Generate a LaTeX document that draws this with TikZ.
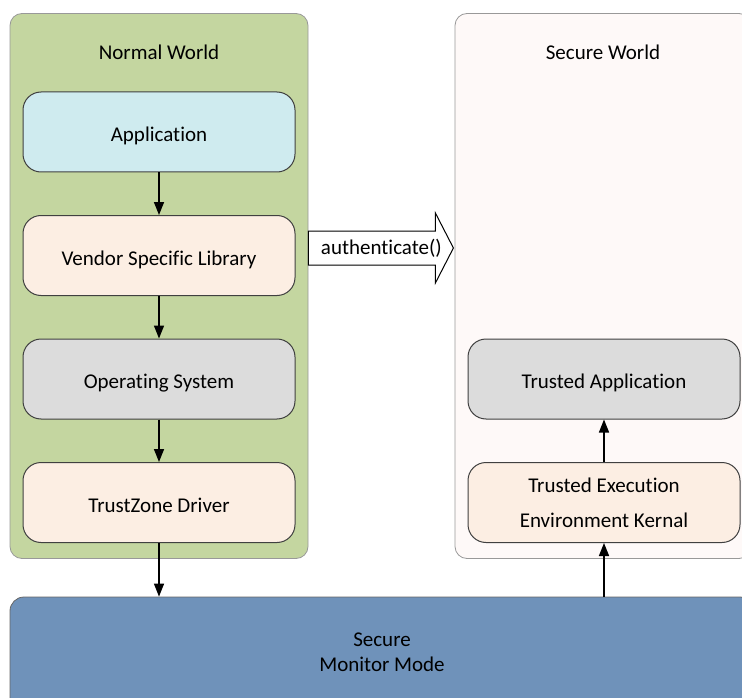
\documentclass[tikz,border=0pt]{standalone}
\usepackage{fontspec}
\setmainfont{Carlito}[Ligatures=NoCommon]
\usetikzlibrary{positioning,arrows.meta}

\begin{document}
\begin{tikzpicture}[x=1pt, y=-1pt, >={Triangle[length=13pt,width=10pt]},
  font=\fontsize{21}{25}\selectfont, node distance=42.5pt,
  world/.style={rectangle, rounded corners=12pt, draw=gray!80, line width=0.8pt,
    minimum width=298pt, minimum height=545pt},
  box/.style={rectangle, rounded corners=18pt, draw=black!75, line width=1pt,
    minimum width=272pt, minimum height=80pt, align=center,
    text height=19pt, text depth=0pt},
  flow/.style={->, line width=1.5pt}]

  \definecolor{nwgreen}{HTML}{C4D6A0}
  \definecolor{appblue}{HTML}{CFEBEF}
  \definecolor{peach}{HTML}{FCEEE3}
  \definecolor{osgray}{HTML}{DCDCDC}
  \definecolor{swpink}{HTML}{FEF9F8}
  \definecolor{smmblue}{HTML}{6F92BA}

  \useasboundingbox (0,0) rectangle (742,698);
  \clip (0,0) rectangle (742,698);

  % the two worlds
  \node[world, fill=nwgreen] (normal) at (159,286) {};
  \node[world, fill=swpink, minimum width=296pt] (secure) at (603,286) {};
  \node (normalT) at (159,52) {Normal World};
  \node (secureT) at (603,52) {Secure World};

  % normal world stack
  \node[box, fill=appblue] (app) at (159,132) {Application};
  \node[box, fill=peach, below=of app] (lib) {Vendor Specific Library};
  \node[box, fill=osgray, below=of lib] (os) {Operating System};
  \node[box, fill=peach, below=of os] (drv) {TrustZone Driver};

  % secure world stack
  \node[box, fill=osgray] (ta) at (604,379) {Trusted Application};
  \node[box, fill=peach, below=of ta, text height={}, text depth={},
    font=\fontsize{21}{35}\selectfont] (tee)
    {Trusted Execution\\Environment Kernal};

  % monitor
  \node[rectangle, rounded corners=14pt, draw=black!60, line width=0.8pt, fill=smmblue,
    minimum width=744pt, minimum height=120pt, align=center, text depth=10pt] (smm) at (382,657)
    {Secure\\Monitor Mode};

  \draw[flow] (app) -- (lib);
  \draw[flow] (lib) -- (os);
  \draw[flow] (os) -- (drv);
  \draw[flow] (drv.south) -- (drv.south |- smm.north);
  \draw[flow] (tee.south |- smm.north) -- (tee.south);
  \draw[flow] (tee) -- (ta);

  % call into the secure world
  \coordinate (callA) at (normal.east |- 0,248);
  \draw[line width=1pt, fill=white] ([yshift=17pt]callA) -- ++(127,0) -- ++(0,-18)
    -- ++(18,35) coordinate (callTip) -- ++(-18,35) -- ++(0,-18) -- ++(-127,0) -- cycle;
  \node (callT) at ([xshift=-72pt]callTip) {authenticate()};

\end{tikzpicture}
\end{document}
